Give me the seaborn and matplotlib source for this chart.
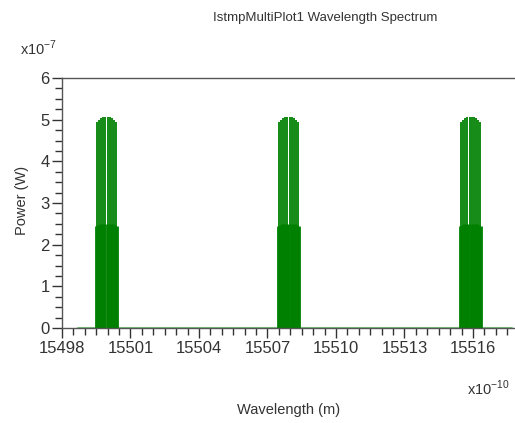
import numpy as np
import pandas as pd
import matplotlib
matplotlib.use("Agg")
import matplotlib.pyplot as plt
from matplotlib.ticker import MultipleLocator
import seaborn as sns

# ---- data (wavelength in units of 1e-10 m, power in units of 1e-7 W) ----
channel_centers = [15499.95, 15507.92, 15515.90]
high_offsets = [-0.42, -0.33, -0.24, -0.14, -0.05, 0.05, 0.14, 0.24, 0.33, 0.42]
high_powers = [4.95, 5.00, 5.03, 5.06, 5.07, 5.07, 5.06, 5.03, 5.00, 4.95]
low_offsets = [-0.47, -0.38, -0.28, -0.19, -0.10, 0.0, 0.10, 0.19, 0.28, 0.38, 0.47]
low_powers = [2.45, 2.48, 2.50, 2.50, 2.50, 2.50, 2.50, 2.50, 2.50, 2.48, 2.45]
baseline_range = [15498.7, 15517.7]
x_ticks = [15498, 15501, 15504, 15507, 15510, 15513, 15516]
y_ticks = [0, 1, 2, 3, 4, 5, 6]

title = "IstmpMultiPlot1 Wavelength Spectrum"
xlabel = "Wavelength (m)"
ylabel = "Power (W)"


def stems(offsets, powers, kind):
    rows = []
    uid = 0
    for c in channel_centers:
        for o, p in zip(offsets, powers):
            rows.append((f"{kind}{uid}", c + o, 0.0))
            rows.append((f"{kind}{uid}", c + o, p))
            uid += 1
    return pd.DataFrame(rows, columns=["line", "wavelength", "power"])


df_high = stems(high_offsets, high_powers, "h")
df_low = stems(low_offsets, low_powers, "l")
df_base = pd.DataFrame({"wavelength": baseline_range, "power": [0.0, 0.0]})

sns.set_theme(style="white")
plt.rcParams["font.family"] = ["Liberation Sans", "DejaVu Sans"]

fig = plt.figure(figsize=(5.15, 4.23), dpi=100)
ax = fig.add_axes([62 / 515, 1 - 328 / 423, 1 - 62 / 515, (328 - 78) / 423])

dark = "#008000"
light = "#7cc47c"

sns.lineplot(data=df_base, x="wavelength", y="power", color=light, lw=1.5, ax=ax)
sns.lineplot(data=df_low, x="wavelength", y="power", units="line", estimator=None,
             color=dark, lw=2.0, ax=ax, solid_capstyle="butt")
sns.lineplot(data=df_high, x="wavelength", y="power", units="line", estimator=None,
             color=dark, lw=1.3, ax=ax, solid_capstyle="butt")

ax.set_xlim(15498, 15498 + (515 - 62) / 22.83)
ax.set_ylim(0, 6)
ax.set_xticks(x_ticks)
ax.set_xticklabels([str(t) for t in x_ticks])
ax.set_yticks(y_ticks)
ax.set_yticklabels([str(t) for t in y_ticks])
ax.xaxis.set_minor_locator(MultipleLocator(0.5))
ax.yaxis.set_minor_locator(MultipleLocator(0.25))

txt = "#333333"
ax.tick_params(axis="both", which="major", direction="out", length=7, width=1,
               color="#333333", labelsize=12, labelcolor=txt, bottom=True, left=True)
ax.tick_params(axis="both", which="minor", direction="out", length=5, width=1,
               color="#333333", bottom=True, left=True)
ax.tick_params(axis="x", which="major", pad=2)
ax.tick_params(axis="y", which="major", pad=2)

for s in ["left", "bottom", "top"]:
    ax.spines[s].set_color("#555555")
    ax.spines[s].set_linewidth(1)
ax.spines["right"].set_visible(False)

ax.set_xlabel("")
ax.set_ylabel("")

fig.text(325 / 515, 1 - 18 / 423, title, ha="center", va="center", fontsize=9.5, color=txt)
fig.text(289 / 515, 1 - 410 / 423, xlabel, ha="center", va="center", fontsize=10.5, color=txt)
fig.text(22 / 515, 1 - 200 / 423, ylabel, ha="center", va="center", fontsize=10.5,
         color=txt, rotation=90)
fig.text(20 / 515, 1 - 48 / 423, r"x10$^{\mathregular{-7}}$", ha="left", va="center",
         fontsize=10.5, color=txt)
fig.text(467 / 515, 1 - 388 / 423, r"x10$^{\mathregular{-10}}$", ha="left", va="center",
         fontsize=10.5, color=txt)

fig.savefig("out.png", dpi=100)
